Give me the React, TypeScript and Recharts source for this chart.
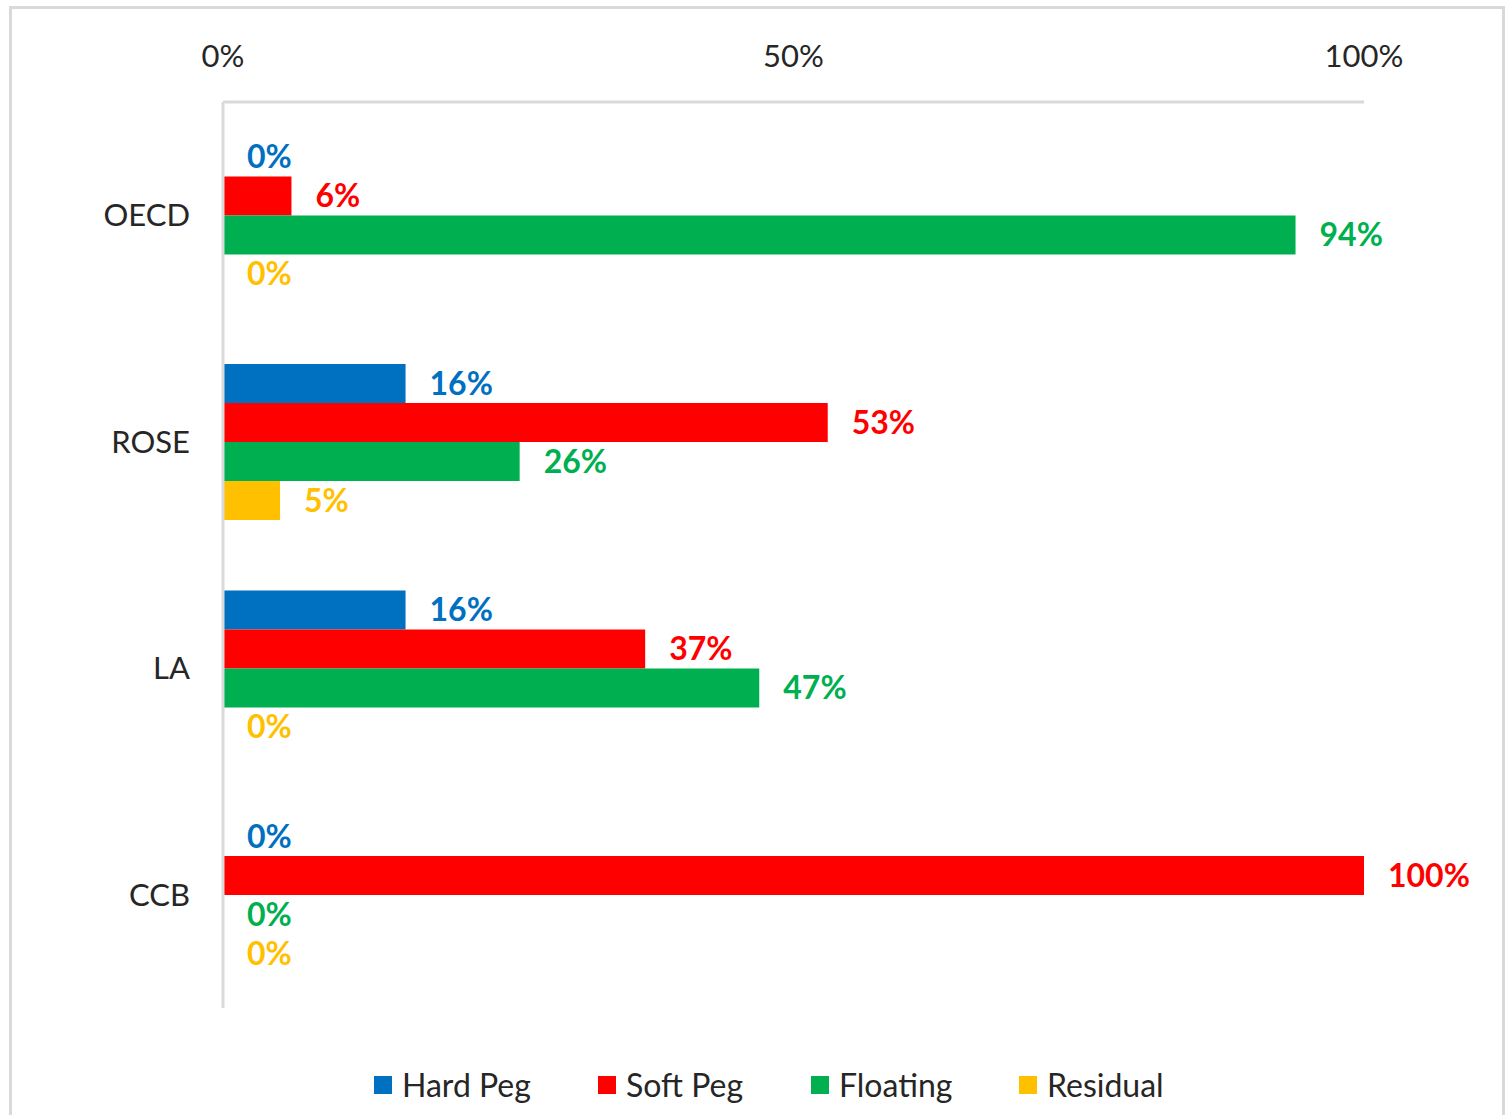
import { BarChart, Bar, XAxis, YAxis, LabelList } from 'recharts'

const regions = ['OECD', 'ROSE', 'LA', 'CCB']
const hardPeg = [0, 16, 16, 0]
const softPeg = [6, 53, 37, 100]
const floating = [94, 26, 47, 0]
const residual = [0, 5, 0, 0]
const xTicks = [0, 50, 100]

const series = [
  { key: 'hard', name: 'Hard Peg', color: '#0070C0', legendX: 374 },
  { key: 'soft', name: 'Soft Peg', color: '#FF0000', legendX: 598 },
  { key: 'floating', name: 'Floating', color: '#00B050', legendX: 811 },
  { key: 'residual', name: 'Residual', color: '#FFC000', legendX: 1019 },
]

const data = regions.map((name, i) => ({
  name,
  hard: hardPeg[i],
  soft: softPeg[i],
  floating: floating[i],
  residual: residual[i],
}))

const FONT = 'Lato, "Open Sans", sans-serif'
const GRAY = '#D9D9D9'
const TEXT = '#262626'

export default function App() {
  return (
    <div
      style={{
        position: 'absolute',
        left: 0,
        top: 0,
        width: 1505,
        height: 1115,
        background: '#fff',
        overflow: 'hidden',
        fontFamily: FONT,
      }}
    >
      <div
        style={{
          position: 'absolute',
          left: 9,
          top: 6,
          width: 1490,
          height: 1140,
          border: `3px solid ${GRAY}`,
        }}
      />
      <div style={{ position: 'absolute', left: 0, top: 0 }}>
        <BarChart
          width={1505}
          height={1115}
          data={data}
          layout="vertical"
          margin={{ top: 42, right: 141, left: 0, bottom: 107 }}
          barCategoryGap="15.7%"
          barGap={0}
        >
          <XAxis
            type="number"
            orientation="top"
            domain={[0, 100]}
            ticks={xTicks}
            tickFormatter={(v) => `${v}%`}
            height={60}
            axisLine={{ stroke: GRAY, strokeWidth: 3 }}
            tickLine={false}
            tickSize={0}
            tickMargin={35}
            tick={{ fontSize: 31, fill: TEXT, fontFamily: FONT }}
          />
          <YAxis
            type="category"
            dataKey="name"
            width={223}
            axisLine={{ stroke: GRAY, strokeWidth: 3 }}
            tickLine={false}
            tickSize={0}
            tickMargin={33}
            tick={{ fontSize: 31, fill: TEXT, fontFamily: FONT }}
          />
          {series.map((s) => (
            <Bar
              key={s.key}
              dataKey={s.key}
              name={s.name}
              fill={s.color}
              minPointSize={0.01}
              isAnimationActive={false}
            >
              <LabelList
                dataKey={s.key}
                position="right"
                offset={24}
                formatter={(v: any) => `${v}%`}
                style={{ fontSize: 32, fontWeight: 700, fill: s.color, fontFamily: FONT }}
              />
            </Bar>
          ))}
        </BarChart>
      </div>
      {series.map((s) => (
        <div
          key={s.key}
          style={{
            position: 'absolute',
            left: s.legendX,
            top: 1064,
            display: 'flex',
            alignItems: 'center',
            fontSize: 32,
            color: TEXT,
            lineHeight: '42px',
          }}
        >
          <span
            style={{ width: 18, height: 18, background: s.color, display: 'inline-block', marginRight: 10 }}
          />
          <span>{s.name}</span>
        </div>
      ))}
    </div>
  )
}
